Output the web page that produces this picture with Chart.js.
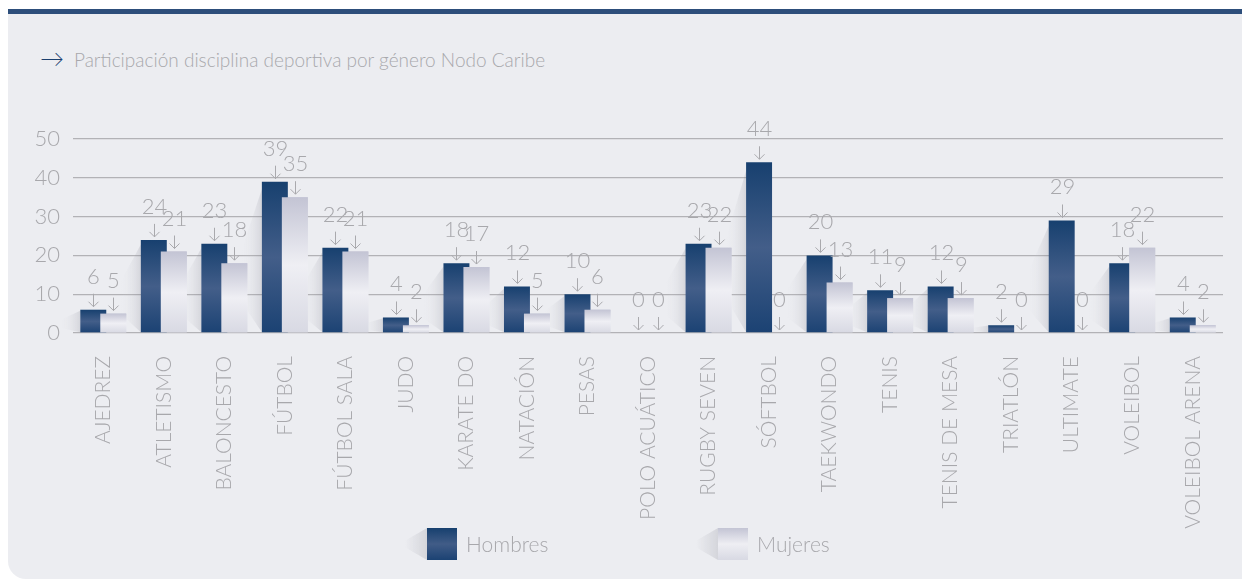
<!DOCTYPE html>
<html>
<head>
<meta charset="utf-8">
<script src="https://cdn.jsdelivr.net/npm/chart.js@4.4.1/dist/chart.umd.min.js"></script>
<style>
  html, body { margin: 0; padding: 0; background: #fff; }
  body { width: 1242px; height: 579px; position: relative; overflow: hidden; font-family: Lato, sans-serif; }
  #panel { position: absolute; left: 8px; top: 9px; width: 1234px; height: 570px; background: #ECEDF1;
           border-top: 5px solid #2D4E7B; border-bottom-left-radius: 18px; box-sizing: border-box; }
  #title { position: absolute; left: 40px; top: 48px; font-size: 19px; font-weight: 300; color: #A8A8AC; white-space: nowrap; }
  #title span { color: #1B3F6E; font-size: 24px; line-height: 19px; margin-right: 10px; }
  #chart { position: absolute; left: 0; top: 0; }
  .lg { position: absolute; top: 528px; height: 32px; }
  .lg .sh { position: absolute; top: 0; left: -22px; width: 22px; height: 32px;
            background: linear-gradient(to left, rgba(120,120,135,0.2), rgba(236,237,241,0));
            clip-path: polygon(100% 0, 100% 100%, 0 60%, 0 40%); }
  .lg .box { position: absolute; top: 0; left: 0; width: 30px; height: 32px; }
  .lg .txt { position: absolute; left: 39px; top: 3px; font-size: 21px; font-weight: 300; color: #A8A8AC; white-space: nowrap; }
</style>
</head>
<body>
<div id="panel"></div>
<div id="title"><span>&rarr;</span>Participación disciplina deportiva por género Nodo Caribe</div>
<canvas id="chart" width="1242" height="579"></canvas>
<div class="lg" style="left:427px"><div class="sh"></div><div class="box" style="background:linear-gradient(#17406F,#415C87 50%,#1B4273)"></div><div class="txt">Hombres</div></div>
<div class="lg" style="left:718px"><div class="sh"></div><div class="box" style="background:linear-gradient(#C3C4D4,#EEEEF3 50%,#D8D9E3)"></div><div class="txt">Mujeres</div></div>
<script>
const categories = ['AJEDREZ', 'ATLETISMO', 'BALONCESTO', 'FÚTBOL', 'FÚTBOL SALA', 'JUDO', 'KARATE DO',
  'NATACIÓN', 'PESAS', 'POLO ACUÁTICO', 'RUGBY SEVEN', 'SÓFTBOL', 'TAEKWONDO', 'TENIS',
  'TENIS DE MESA', 'TRIATLÓN', 'ULTIMATE', 'VOLEIBOL', 'VOLEIBOL ARENA'];
const hombres = [6, 24, 23, 39, 22, 4, 18, 12, 10, 0, 23, 44, 20, 11, 12, 2, 29, 18, 4];
const mujeres = [5, 21, 18, 35, 21, 2, 17, 5, 6, 0, 22, 0, 13, 9, 9, 0, 0, 22, 2];
const yTicks = [0, 10, 20, 30, 40, 50];

const FONT = 'Lato';
const GREY = '#A8A8AC';

// vertical gradient per bar, light band in the middle
function barGradient(stops) {
  return (ctx) => {
    const chart = ctx.chart;
    const y = chart.scales.y;
    if (!y || ctx.type !== 'data' || !ctx.parsed) return stops[0];
    const top = y.getPixelForValue(ctx.parsed.y);
    const base = y.getPixelForValue(0);
    if (!isFinite(top) || !isFinite(base) || base - top < 1) return stops[0];
    const g = chart.ctx.createLinearGradient(0, top, 0, base);
    g.addColorStop(0, stops[0]);
    g.addColorStop(0.5, stops[1]);
    g.addColorStop(1, stops[2]);
    return g;
  };
}

const shadowPlugin = {
  id: 'barShadow',
  beforeDatasetsDraw(chart) {
    const ctx = chart.ctx;
    const meta = chart.getDatasetMeta(0);
    ctx.save();
    meta.data.forEach((el) => {
      const left = el.x - el.width / 2;
      const top = el.y, base = el.base, h = base - top;
      if (h < 2) return;
      const w = 20;
      const g = ctx.createLinearGradient(left, 0, left - w, 0);
      g.addColorStop(0, 'rgba(120,120,135,0.2)');
      g.addColorStop(1, 'rgba(236,237,241,0)');
      ctx.fillStyle = g;
      ctx.beginPath();
      ctx.moveTo(left, top + h * 0.05);
      ctx.lineTo(left, base);
      ctx.lineTo(left - w, base - h * 0.2);
      ctx.lineTo(left - w, top + h * 0.45);
      ctx.closePath();
      ctx.fill();
    });
    ctx.restore();
  }
};

// draw Mujeres again so it sits over the Hombres bar where they overlap
const mujeresOnTop = {
  id: 'mujeresOnTop',
  afterDatasetsDraw(chart) {
    chart.getDatasetMeta(1).controller.draw();
  }
};

const valueLabels = {
  id: 'valueLabels',
  afterDatasetsDraw(chart) {
    const ctx = chart.ctx;
    ctx.save();
    ctx.fillStyle = GREY;
    ctx.strokeStyle = '#A9A9AD';
    ctx.lineWidth = 1;
    ctx.font = '300 22px ' + FONT;
    ctx.textAlign = 'center';
    ctx.textBaseline = 'alphabetic';
    chart.data.datasets.forEach((ds, di) => {
      chart.getDatasetMeta(di).data.forEach((el, i) => {
        const x = Math.round(el.x) + 0.5;
        const top = el.y;
        ctx.fillText(String(ds.data[i]), x, top - 26);
        // arrow
        ctx.beginPath();
        ctx.moveTo(x, top - 16);
        ctx.lineTo(x, top - 3);
        ctx.moveTo(x - 5, top - 8);
        ctx.lineTo(x, top - 3);
        ctx.lineTo(x + 5, top - 8);
        ctx.stroke();
      });
    });
    ctx.restore();
  }
};

new Chart(document.getElementById('chart'), {
  type: 'bar',
  data: {
    labels: categories,
    datasets: [
      {
        label: 'Hombres',
        data: hombres,
        backgroundColor: barGradient(['#17406F', '#435E89', '#1B4273']),
        categoryPercentage: 0.66,
        barPercentage: 1.3
      },
      {
        label: 'Mujeres',
        data: mujeres,
        backgroundColor: barGradient(['#C3C4D4', '#EFEFF4', '#D8D9E3']),
        categoryPercentage: 0.66,
        barPercentage: 1.3
      }
    ]
  },
  options: {
    responsive: false,
    animation: false,
    layout: { padding: { top: 139, left: 0, right: 19, bottom: 0 } },
    plugins: {
      legend: { display: false },
      tooltip: { enabled: false }
    },
    scales: {
      x: {
        grid: { display: false },
        border: { display: false },
        ticks: {
          autoSkip: false,
          minRotation: 90,
          maxRotation: 90,
          padding: 15,
          color: GREY,
          font: { family: FONT, size: 21, weight: 300 }
        },
        afterFit(scale) { scale.height = 246; }
      },
      y: {
        min: 0,
        max: 50,
        afterBuildTicks(scale) { scale.ticks = yTicks.map((v) => ({ value: v })); },
        grid: { color: '#B2B2B6', lineWidth: 1.3, drawTicks: false },
        border: { display: false },
        ticks: {
          padding: 13,
          color: GREY,
          font: { family: FONT, size: 22, weight: 300 }
        },
        afterFit(scale) { scale.width = 73; }
      }
    }
  },
  plugins: [shadowPlugin, mujeresOnTop, valueLabels]
});
</script>
</body>
</html>
